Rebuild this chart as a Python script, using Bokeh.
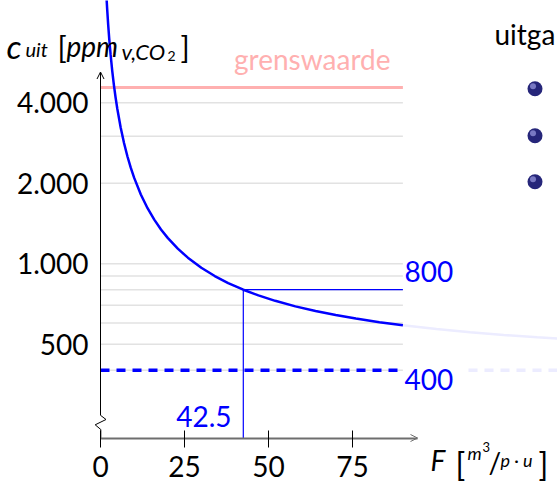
import math
from bokeh.plotting import figure
from bokeh.models import FixedTicker, Arrow, OpenHead, Label, Range1d
from bokeh.embed import file_html
from bokeh.resources import INLINE

# ---------------- data ----------------
F_curve = [1.8, 2, 2.3, 2.6, 3, 3.5, 4, 4.5, 5, 6, 7, 8, 9, 10, 12, 14, 16, 18, 20,
           23, 26, 30, 34, 38, 42.5, 47, 52, 58, 64, 70, 76, 83, 90]
c_curve = [9844, 8900, 7791, 6938, 6067, 5257, 4650, 4178, 3800, 3233, 2829, 2525, 2289, 2100,
           1817, 1614, 1463, 1344, 1250, 1139, 1054, 967, 900, 847, 800, 762, 727, 693,
           666, 643, 624, 605, 589]
F_fade = [90, 100, 110, 120, 130, 140]
c_fade = [589, 570, 555, 542, 531, 521]

grid_values = [400, 500, 600, 700, 800, 900, 1000, 2000, 3000, 4000]
grid_F = [0, 90]
limit_value = 4560          # grenswaarde
outdoor_value = 400         # buitenlucht
design_value = 800
design_F = 42.5

x_ticks = [0, 25, 50, 75]
y_ticks = [500, 1000, 2000, 4000]
y_tick_labels = ["500", "1.000", "2.000", "4.000"]

# ---------------- page <-> data mapping ----------------
PX0, PX_PER = 100.0, 3.36          # page x of F=0, px per unit
PY1000, PX_DEC = 263.3, 267.4      # page y of 1000, px per decade


def px2x(px):
    return (px - PX0) / PX_PER


def py2y(py):
    return 10 ** (3 - (py - PY1000) / PX_DEC)


W, H = 557, 482
X0, X1 = px2x(0), px2x(W)
Y0, Y1 = py2y(H), py2y(0)
AXIS_Y = py2y(437.5)

BLUE = "#0000ff"
PINK = "#ffb0b0"
GRID = "#e2e2e2"
FADE = "#ececff"
FONT = "Lato"
BASE_FIX = 10   # label baseline correction (px)

p = figure(width=W, height=H, x_range=Range1d(X0, X1), y_range=Range1d(Y0, Y1),
           y_axis_type="log", toolbar_location=None, output_backend="svg",
           min_border=0, min_border_left=0, min_border_right=0,
           min_border_top=0, min_border_bottom=0,
           outline_line_color=None, background_fill_color="white",
           border_fill_color="white")
p.grid.visible = False

# ---------------- axes ----------------
xa = p.xaxis[0]
xa.fixed_location = AXIS_Y
xa.ticker = FixedTicker(ticks=x_ticks)
xa.bounds = (0, px2x(417))
xa.axis_line_color = "#6e6e6e"
xa.axis_line_width = 2
xa.major_tick_line_color = "black"
xa.major_tick_line_width = 1
xa.major_tick_in = 8
xa.major_tick_out = 9
xa.minor_tick_line_color = None
xa.major_label_text_font = FONT
xa.major_label_text_font_size = "28px"
xa.major_label_text_color = "black"
xa.major_label_standoff = 9

ya = p.yaxis[0]
ya.fixed_location = 0
ya.ticker = FixedTicker(ticks=y_ticks)
ya.major_label_overrides = {t: l for t, l in zip(y_ticks, y_tick_labels)}
ya.bounds = (py2y(415), py2y(71.5))
ya.axis_line_color = "black"
ya.axis_line_width = 1
ya.major_tick_line_color = None
ya.minor_tick_line_color = None
ya.major_tick_in = 0
ya.major_tick_out = 0
ya.major_label_standoff = 12
ya.major_label_text_font = FONT
ya.major_label_text_font_size = "28px"
ya.major_label_text_color = "black"

# ---------------- faded continuation ----------------
p.line(F_fade, c_fade, line_color=FADE, line_width=2.5)
p.line([px2x(468), X1 + 5], [outdoor_value, outdoor_value], line_color=FADE,
       line_width=3.5, line_dash="9 7")

# ---------------- grid lines ----------------
p.multi_line([grid_F for _ in grid_values], [[v, v] for v in grid_values],
             line_color=GRID, line_width=1.5)

# grenswaarde
p.line(grid_F, [limit_value, limit_value], line_color=PINK, line_width=3)

# outdoor 400 dashed
p.line(grid_F, [outdoor_value, outdoor_value], line_color=BLUE, line_width=3.5,
       line_dash="9 7")

# design point lines
p.line([design_F, grid_F[1]], [design_value, design_value], line_color=BLUE, line_width=1.2)
p.line([design_F, design_F], [AXIS_Y, design_value], line_color=BLUE, line_width=1.2)

# curve
p.line(F_curve, c_curve, line_color=BLUE, line_width=2.5)

# axis break zig-zag
p.line([px2x(100.3), px2x(105.5), px2x(94.7), px2x(100.3), px2x(100.3)],
       [py2y(415), py2y(419), py2y(424.3), py2y(429), AXIS_Y],
       line_color="black", line_width=1)

# arrow heads
p.add_layout(Arrow(end=OpenHead(size=7, line_color="black", line_width=1),
                   x_start=0, y_start=py2y(85), x_end=0, y_end=py2y(71.5),
                   line_alpha=0))
p.add_layout(Arrow(end=OpenHead(size=7, line_color="#6e6e6e", line_width=1),
                   x_start=px2x(405), y_start=AXIS_Y, x_end=px2x(417), y_end=AXIS_Y,
                   line_alpha=0))


# ---------------- texts ----------------
def lab(text, px, py, size, color="black", style="normal", align="left"):
    p.add_layout(Label(x=px2x(px), y=py2y(py - BASE_FIX), text=text, text_font=FONT,
                       text_font_size=f"{size}px", text_color=color,
                       text_font_style=style, text_align=align,
                       text_baseline="alphabetic"))


lab("grenswaarde", 390, 68, 28, PINK, align="right")
lab(f"{design_value}", 404, 281, 28, BLUE)
lab(f"{outdoor_value}", 404, 389, 28, BLUE)
lab(f"{design_F}", 231, 426, 28, BLUE, align="right")

# y axis title  c_uit [ppm_{v,CO2}]
lab("c", 6, 55, 33, style="italic")
lab("uit", 25, 58, 20, style="italic")
lab("[", 57, 56, 30)
lab("ppm", 66, 55, 28, style="italic")
lab("v,CO", 121, 61, 22, style="italic")
lab("2", 167, 65, 14)
lab("]", 180, 56, 30)

# x axis title  F [m^3/p.u]
lab("F", 430, 469, 28, style="italic")
lab("[", 455, 473, 32)
lab("m", 467, 462, 18, style="italic")
lab("3", 482, 456, 13)
lab("/", 488, 471, 28)
lab("p · u", 500, 469, 18, style="italic")
lab("]", 538, 473, 32)

# slide text on the right
lab("uitga", 494, 43, 28)

bullet_py = [88.3, 135.3, 181.3]
p.scatter([px2x(534.5)] * 3, [py2y(v) for v in bullet_py], size=15,
          fill_color="#26267a", line_color=None)
p.scatter([px2x(532.5)] * 3, [py2y(v - 2.5) for v in bullet_py], size=6,
          fill_color="#8f8fd6", line_color=None, fill_alpha=0.8)

open("out.html", "w").write(file_html(p, INLINE))
